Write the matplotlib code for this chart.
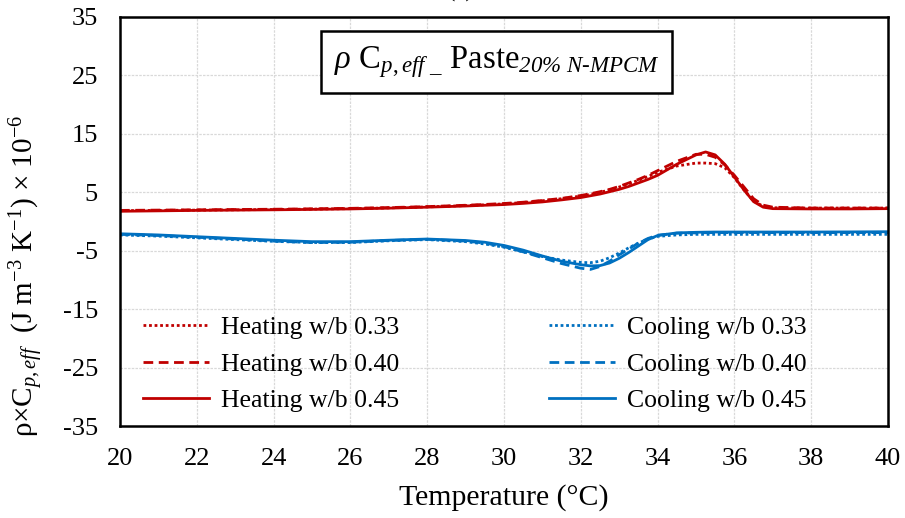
import matplotlib
matplotlib.use("Agg")
import matplotlib.pyplot as plt

plt.rcParams["font.family"] = ["Liberation Serif", "DejaVu Serif"]
plt.rcParams["mathtext.fontset"] = "custom"
plt.rcParams["mathtext.rm"] = "Liberation Serif"
plt.rcParams["mathtext.it"] = "Liberation Serif:italic"
plt.rcParams["mathtext.bf"] = "Liberation Serif:bold"
# italic digits in the subscript go through the sf slot
plt.rcParams["mathtext.sf"] = "Liberation Serif:italic"
plt.rcParams["axes.unicode_minus"] = False

# temperature (°C)
temp = [20, 21, 22, 23, 24, 25, 26, 27, 28, 29, 29.5, 30, 30.5, 31, 31.5, 32,
        32.25, 32.5, 32.75, 33, 33.25, 33.5, 33.75, 34, 34.5, 35, 35.25, 35.5,
        35.75, 36, 36.25, 36.5, 36.75, 37, 38, 39, 40]

# heating curves
heat_033 = [1.85, 1.9, 1.95, 2.0, 2.05, 2.12, 2.2, 2.33, 2.5, 2.72, 2.86, 3.02,
            3.25, 3.55, 3.9, 4.35, 4.65, 5.0, 5.4, 5.9, 6.45, 7.05, 7.7, 8.4,
            9.5, 10.0, 10.0, 9.9, 9.2, 7.5, 5.4, 3.5, 2.6, 2.35, 2.3, 2.3, 2.3]
heat_040 = [1.9, 1.95, 2.0, 2.05, 2.1, 2.17, 2.25, 2.38, 2.55, 2.78, 2.92, 3.08,
            3.3, 3.6, 3.95, 4.45, 4.75, 5.1, 5.5, 6.0, 6.6, 7.2, 7.9, 8.7,
            10.3, 11.5, 11.5, 11.0, 9.7, 7.9, 5.9, 3.9, 2.8, 2.45, 2.3, 2.3, 2.3]
heat_045 = [1.75, 1.82, 1.9, 1.95, 2.0, 2.07, 2.15, 2.28, 2.45, 2.65, 2.78, 2.9,
            3.1, 3.35, 3.7, 4.1, 4.4, 4.7, 5.1, 5.5, 6.0, 6.6, 7.2, 7.9,
            9.8, 11.4, 11.9, 11.4, 9.8, 7.6, 5.4, 3.4, 2.45, 2.2, 2.15, 2.15, 2.2]

# cooling curves
cool_033 = [-2.3, -2.5, -2.8, -3.1, -3.4, -3.6, -3.6, -3.3, -3.1, -3.45, -3.85,
            -4.4, -5.2, -6.0, -6.6, -7.0, -7.05, -6.8, -6.2, -5.4, -4.5, -3.7,
            -3.0, -2.55, -2.3, -2.2, -2.2, -2.2, -2.2, -2.2, -2.2, -2.2, -2.2,
            -2.2, -2.2, -2.2, -2.2]
cool_040 = [-2.2, -2.4, -2.7, -3.0, -3.35, -3.6, -3.55, -3.25, -3.05, -3.35, -3.7,
            -4.3, -5.2, -6.2, -7.2, -8.0, -8.2, -7.7, -6.8, -5.7, -4.7, -3.7,
            -2.9, -2.35, -2.0, -1.95, -1.92, -1.9, -1.9, -1.9, -1.9, -1.9, -1.9,
            -1.9, -1.9, -1.9, -1.9]
cool_045 = [-2.1, -2.3, -2.6, -2.9, -3.2, -3.45, -3.45, -3.2, -3.0, -3.25, -3.55,
            -4.1, -4.9, -5.9, -6.8, -7.4, -7.6, -7.55, -7.1, -6.3, -5.3, -4.2,
            -3.1, -2.4, -1.95, -1.85, -1.82, -1.8, -1.8, -1.8, -1.8, -1.8, -1.8,
            -1.8, -1.8, -1.78, -1.75]

x_ticks = list(range(20, 41, 2))
y_ticks = [-35, -25, -15, -5, 5, 15, 25, 35]

red = "#C00000"
blue = "#0070C0"

fig = plt.figure(figsize=(9.05, 5.18), dpi=100)
ax = fig.add_axes([0.1326, 0.1776, 0.8486, 0.7896])

ax.plot(temp, heat_033, color=red, lw=2, ls=(0, (1, 1)), label="Heating w/b 0.33")
ax.plot(temp, heat_040, color=red, lw=2, ls=(0, (3.5, 2)), label="Heating w/b 0.40")
ax.plot(temp, heat_045, color=red, lw=2, ls="-", label="Heating w/b 0.45")
ax.plot(temp, cool_033, color=blue, lw=2, ls=(0, (1, 1)), label="Cooling w/b 0.33")
ax.plot(temp, cool_040, color=blue, lw=2, ls=(0, (3.5, 2)), label="Cooling w/b 0.40")
ax.plot(temp, cool_045, color=blue, lw=2, ls="-", label="Cooling w/b 0.45")

ax.set_xlim(20, 40)
ax.set_ylim(-35, 35)
ax.set_xticks(x_ticks)
ax.set_yticks(y_ticks)
ax.tick_params(length=0, labelsize=19)
ax.tick_params(axis="y", pad=16)
ax.tick_params(axis="x", pad=16)
ax.grid(True, color="#d9d9d9", ls=(0, (2, 1)), lw=0.9)
ax.set_axisbelow(True)
for s in ax.spines.values():
    s.set_linewidth(1.8)
    s.set_color("black")

ax.set_xlabel("Temperature (°C)", fontsize=21.5, labelpad=10)
ax.set_ylabel("ρ×C$_{p,eff}$  (J m$^{-3}$ K$^{-1}$) × 10$^{-6}$", fontsize=21)
ax.yaxis.set_label_coords(-0.097, 0.367)

ax.text(0.49, 0.891,
        r"$\rho$ C$_{p,eff\ \_}$ Paste$_{\mathsf{20\%\ N\text{-}MPCM}}$",
        transform=ax.transAxes, ha="center", va="center", fontsize=23.5,
        bbox=dict(boxstyle="square,pad=0.4", fc="white", ec="black", lw=1.8))

ax.legend(loc="lower left", bbox_to_anchor=(0.0, -0.022), ncol=2, frameon=False,
          fontsize=18.5, handlelength=2.55, handletextpad=0.47,
          columnspacing=5.85, labelspacing=0.52)

fig.text(461 / 905, 0.997, "(a)", ha="center", va="bottom", fontsize=18)

fig.savefig("out.png", dpi=100)
